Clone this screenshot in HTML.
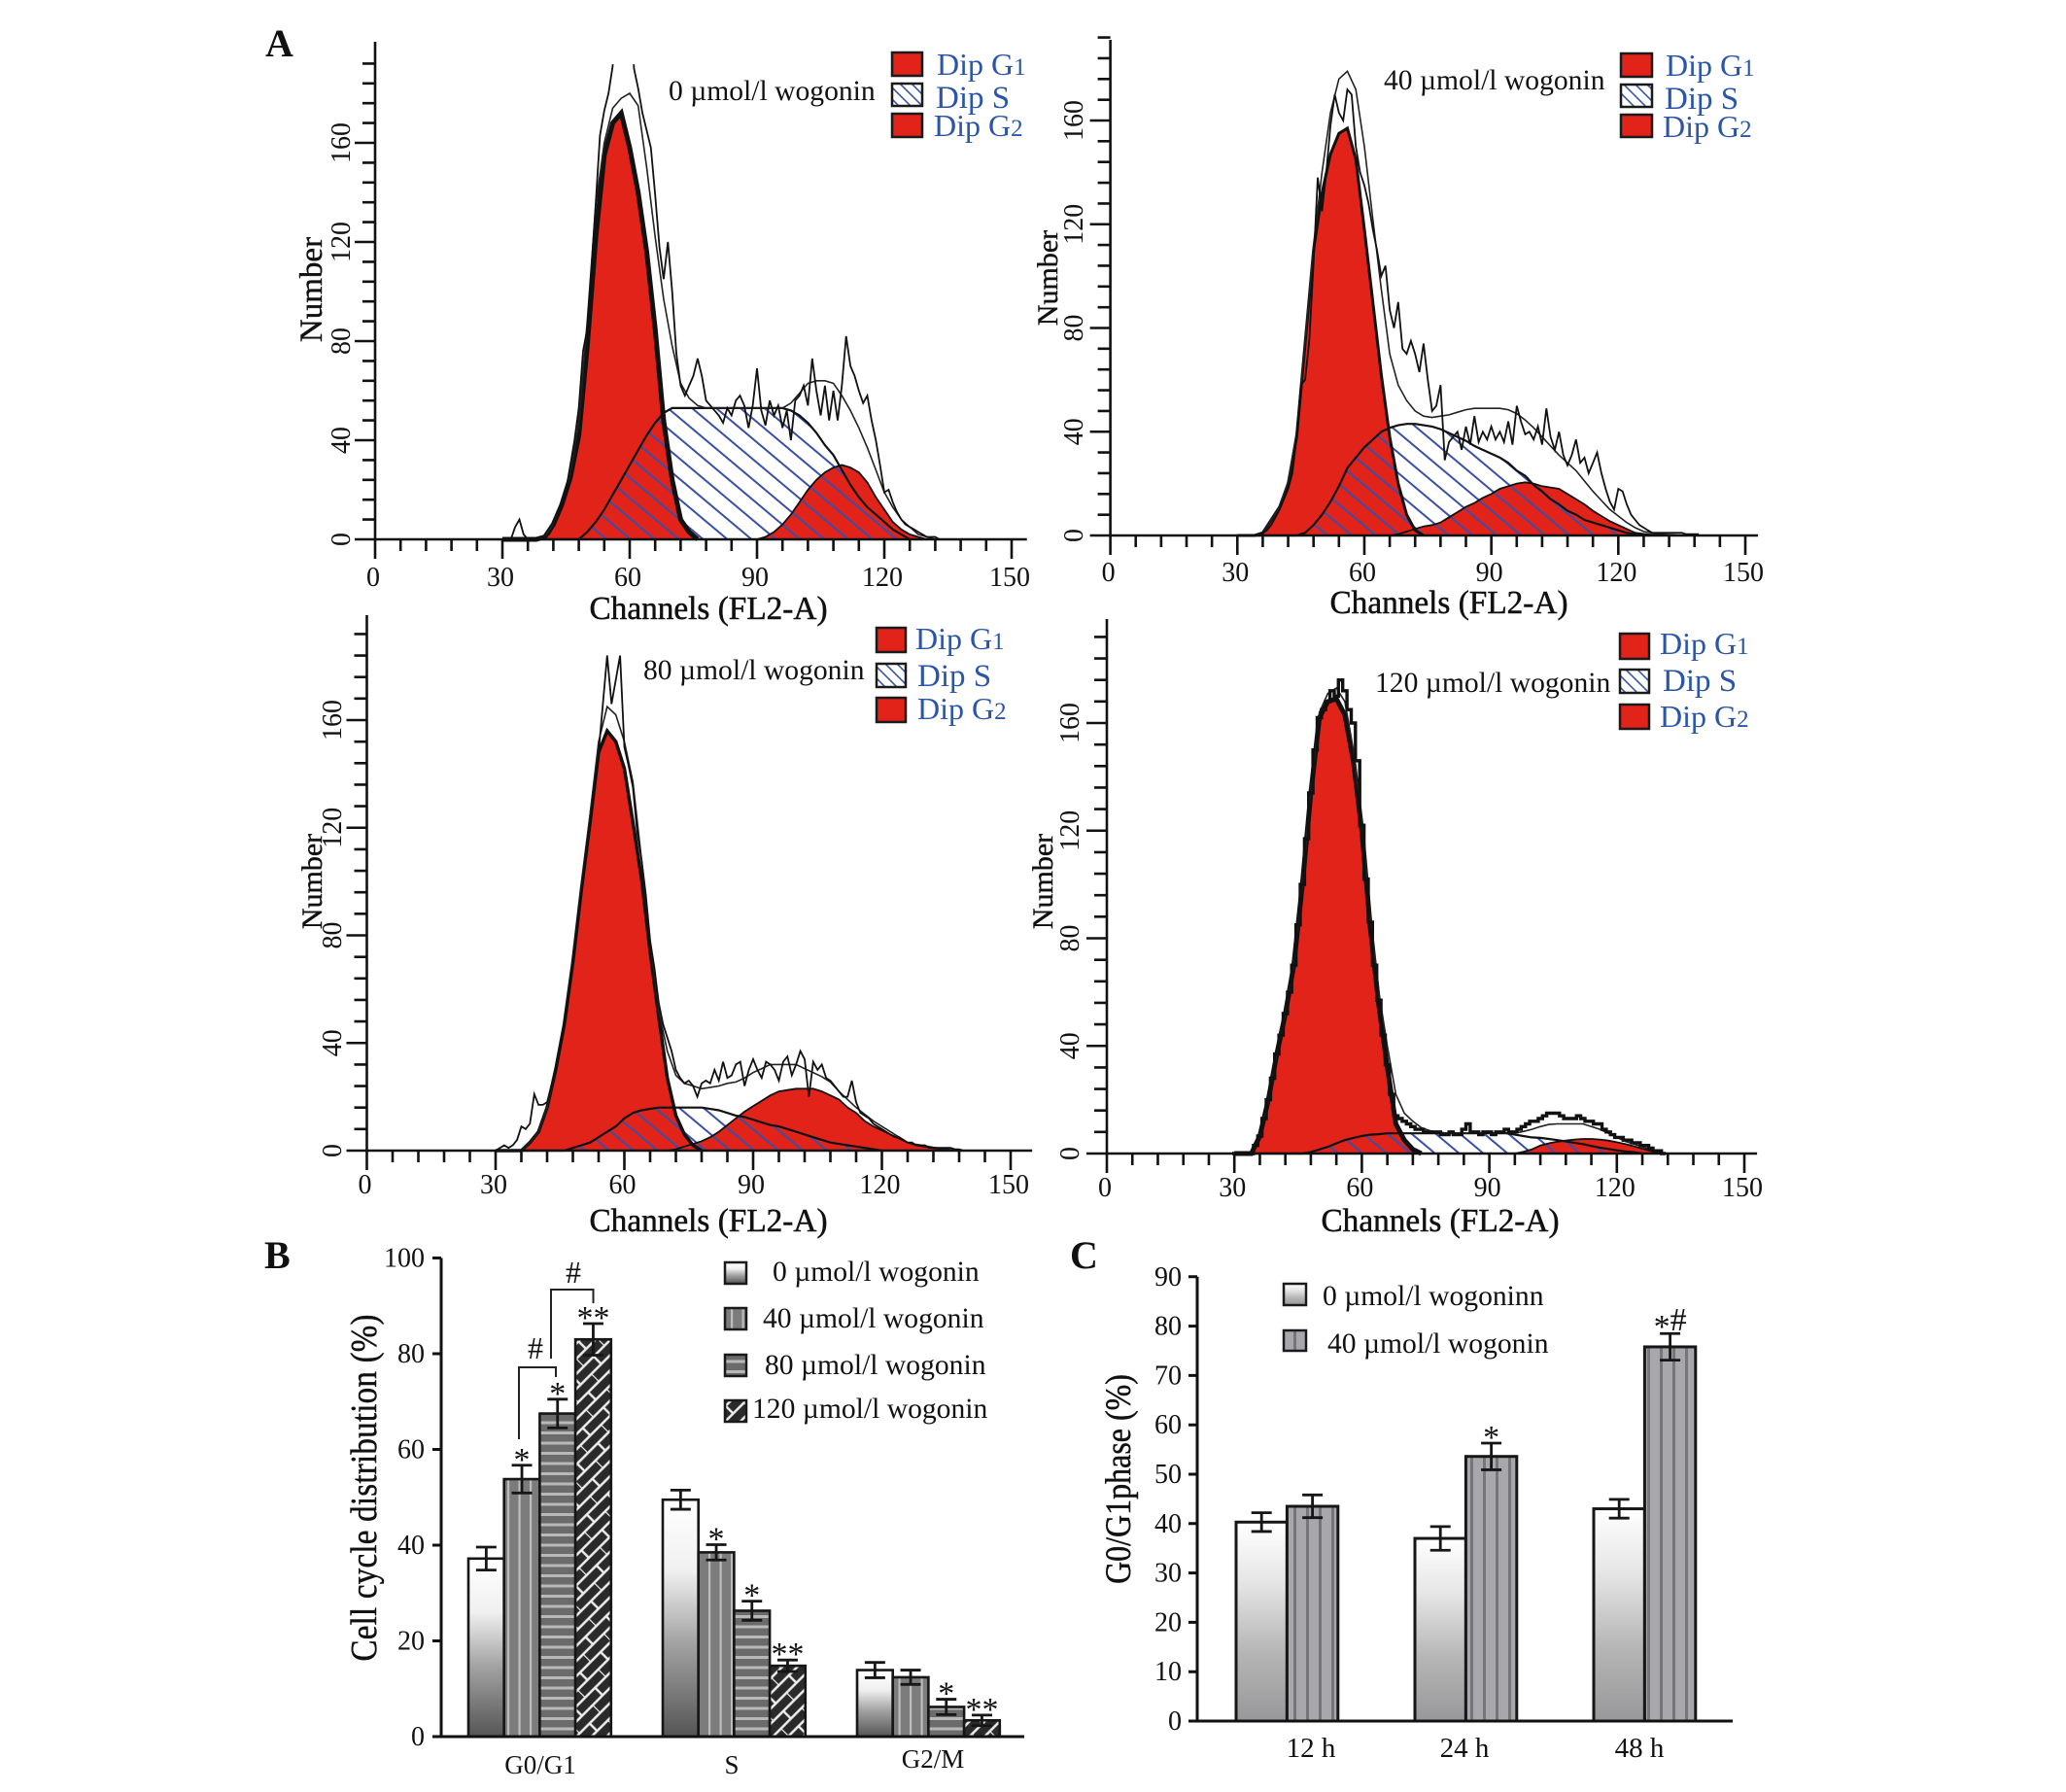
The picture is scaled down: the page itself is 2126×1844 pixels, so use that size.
<!DOCTYPE html>
<html lang="en">
<head>
<meta charset="utf-8">
<title>Wogonin cell cycle figure</title>
<style>
html,body{margin:0;padding:0;background:#fff;}
svg{display:block;}
text{font-family:"Liberation Serif",serif;fill:#111;}
.leg{fill:#2b55a8;font-size:32px;}
.legs{fill:#2b55a8;font-size:33px;}
.ann{font-size:29.6px;}
.ch{font-size:33.3px;text-anchor:middle;stroke:#111;stroke-width:.5px;}
.num{font-size:33px;text-anchor:middle;stroke:#111;stroke-width:.4px;}
.tick{font-size:28px;}
.letter{font-size:40px;font-weight:bold;}
.sw{stroke:#1a1a1a;stroke-width:2.5;}
</style>
</head>
<body>
<svg id="fig" xmlns="http://www.w3.org/2000/svg" width="2126" height="1844" viewBox="0 0 2126 1844">
<defs>
<pattern id="hatch" patternUnits="userSpaceOnUse" width="40" height="16" patternTransform="rotate(40)"><path d="M-2,8H42" stroke="#3a4fa5" stroke-width="2" fill="none"/></pattern>
<pattern id="hatchSmall" patternUnits="userSpaceOnUse" width="12" height="12"><path d="M-2,-2L14,14M-2,10L2,14M10,-2L14,2" stroke="#3b57ab" stroke-width="1.6" fill="none"/></pattern>
<linearGradient id="gradB" x1="0" y1="0" x2="0" y2="1"><stop offset="0" stop-color="#fff"/><stop offset=".3" stop-color="#f0f0f0"/><stop offset=".6" stop-color="#a4a4a4"/><stop offset="1" stop-color="#555"/></linearGradient>
<linearGradient id="gradC" x1="0" y1="0" x2="0" y2="1"><stop offset="0" stop-color="#fff"/><stop offset=".3" stop-color="#e6e6e6"/><stop offset=".65" stop-color="#b6b6b6"/><stop offset="1" stop-color="#98989a"/></linearGradient>
<pattern id="patB40" patternUnits="userSpaceOnUse" width="11.5" height="20"><rect width="11.5" height="20" fill="#7c7c7c"/><rect x="4.5" width="2.2" height="20" fill="#bcbcbc"/></pattern>
<pattern id="patB80" patternUnits="userSpaceOnUse" width="20" height="10.5"><rect width="20" height="10.5" fill="#6b6b6b"/><rect y="3" width="20" height="3" fill="#b8b8b8"/></pattern>
<pattern id="patB120" patternUnits="userSpaceOnUse" width="30" height="22" patternTransform="rotate(-45)"><rect width="30" height="22" fill="#2a2a2a"/><path d="M0,0H30M0,11H30M0,22H30M0,0V11M15,11V22" stroke="#eee" stroke-width="2.4" fill="none"/></pattern>
<pattern id="patC40" patternUnits="userSpaceOnUse" width="13" height="20"><rect width="13" height="20" fill="#a8a8ac"/><rect x="5" width="3" height="20" fill="#76767a"/></pattern>
</defs>

<text class="letter" x="273" y="58">A</text>
<text class="letter" x="272" y="1305">B</text>
<text class="letter" x="1101" y="1305">C</text>

<text class="ann" x="688" y="103">0 µmol/l wogonin</text>
<text class="ann" x="1424" y="92">40 µmol/l wogonin</text>
<text class="ann" x="662" y="699">80 µmol/l wogonin</text>
<text class="ann" x="1415" y="712">120 µmol/l wogonin</text>

<text class="ch" x="729" y="637">Channels (FL2-A)</text>
<text class="ch" x="1491" y="631">Channels (FL2-A)</text>
<text class="ch" x="729" y="1267">Channels (FL2-A)</text>
<text class="ch" x="1482" y="1267">Channels (FL2-A)</text>

<text class="num" transform="translate(331,298) rotate(-90)">Number</text>
<text class="num" style="font-size:30px" transform="translate(1088,286) rotate(-90)">Number</text>
<text class="num" style="font-size:30px" transform="translate(331,907) rotate(-90)">Number</text>
<text class="num" style="font-size:30px" transform="translate(1083,907) rotate(-90)">Number</text>

<g>
<rect class="sw" x="918" y="54" width="31" height="24" fill="#e2231a"/>
<rect class="sw" x="918" y="86" width="31" height="23" fill="url(#hatchSmall)"/>
<rect class="sw" x="918" y="117" width="31" height="24" fill="#e2231a"/>
<text class="leg" x="964" y="77">Dip G<tspan font-size="25">1</tspan></text>
<text class="legs" x="963" y="111">Dip S</text>
<text class="leg" x="961" y="140">Dip G<tspan font-size="25">2</tspan></text>
</g>
<g>
<rect class="sw" x="1668" y="55" width="32" height="24" fill="#e2231a"/>
<rect class="sw" x="1668" y="87" width="32" height="23" fill="url(#hatchSmall)"/>
<rect class="sw" x="1668" y="118" width="32" height="23" fill="#e2231a"/>
<text class="leg" x="1714" y="78">Dip G<tspan font-size="25">1</tspan></text>
<text class="legs" x="1713" y="112">Dip S</text>
<text class="leg" x="1711" y="141">Dip G<tspan font-size="25">2</tspan></text>
</g>
<g>
<rect class="sw" x="902" y="646" width="30" height="25" fill="#e2231a"/>
<rect class="sw" x="902" y="683" width="30" height="24" fill="url(#hatchSmall)"/>
<rect class="sw" x="902" y="718" width="30" height="25" fill="#e2231a"/>
<text class="leg" x="942" y="668">Dip G<tspan font-size="25">1</tspan></text>
<text class="legs" x="944" y="706">Dip S</text>
<text class="leg" x="944" y="740">Dip G<tspan font-size="25">2</tspan></text>
</g>
<g>
<rect class="sw" x="1667" y="652" width="30" height="26" fill="#e2231a"/>
<rect class="sw" x="1667" y="689" width="30" height="24" fill="url(#hatchSmall)"/>
<rect class="sw" x="1667" y="725" width="30" height="25" fill="#e2231a"/>
<text class="leg" x="1708" y="673">Dip G<tspan font-size="25">1</tspan></text>
<text class="legs" x="1711" y="711">Dip S</text>
<text class="leg" x="1708" y="748">Dip G<tspan font-size="25">2</tspan></text>
</g>

<text transform="translate(387,1531) rotate(-90) scale(1,1.15)" font-size="33" text-anchor="middle" textLength="357" stroke="#111" stroke-width=".4">Cell cycle distribution (%)</text>
<g>
<rect class="sw" x="746" y="1299" width="22" height="22" fill="url(#gradB)"/>
<rect class="sw" x="746" y="1346" width="22" height="22" fill="url(#patB40)"/>
<rect class="sw" x="746" y="1394" width="22" height="22" fill="url(#patB80)"/>
<rect class="sw" x="746" y="1441" width="22" height="22" fill="url(#patB120)"/>
<text class="ann" x="795" y="1318">0 µmol/l wogonin</text>
<text class="ann" x="785" y="1366">40 µmol/l wogonin</text>
<text class="ann" x="787" y="1414">80 µmol/l wogonin</text>
<text class="ann" x="774" y="1459">120 µmol/l wogonin</text>
</g>
<path d="M534,1481V1407H572V1417" fill="none" stroke="#222" stroke-width="2"/>
<path d="M567,1398V1327H610.5V1341" fill="none" stroke="#222" stroke-width="2"/>
<text x="551" y="1398" font-size="32" text-anchor="middle">#</text>
<text x="590" y="1320" font-size="32" text-anchor="middle">#</text>

<text transform="translate(1163,1522) rotate(-90) scale(1,1.15)" font-size="32" text-anchor="middle" stroke="#111" stroke-width=".4">G0/G1phase (%)</text>
<g>
<rect class="sw" x="1321" y="1321" width="23" height="22" fill="url(#gradC)"/>
<rect class="sw" x="1321" y="1369" width="23" height="21" fill="url(#patC40)"/>
<text class="ann" x="1361" y="1343">0 µmol/l wogoninn</text>
<text class="ann" x="1366" y="1392">40 µmol/l wogonin</text>
</g>
</svg>

<script>
// ---------- Panel A data: model curves sampled every 2 channels from channel 30 ----------
const curveStart = 30;
const curveStep = 2;
const rawStart = 30;
const xTickLabels = [0, 30, 60, 90, 120, 150];
const yTickLabels = [0, 40, 80, 120, 160];

const p0G1 = [0,0,0,0,0, 1,6,14,25,42, 78,122,155,168,172, 158,140,116,85,48, 24,8,3,0];
const p0S = [0,0,0,0,0,0,0,0,0, 0,3,7,12,18,24,30,36,42,47,51, 53,53,53,53,53,53,53,53,53,53,53,53,53,53, 52,50,47,43,38,34,28,22,17,13,10,7,4,2,0];
const p0G2 = [0,0,0,0,0,0,0,0,0,0, 0,0,0,0,0,0,0,0,0,0, 0,0,0,0,0,0,0,0,0,0, 0,1,3,6,10,15,20,24,27,29,30,29,27,23,17,12,7,4,2,1,0];
const p0Fit = [0,0,0,0,0, 1,6,14,27,47, 88,135,160,174,178, 180,175,150,122,97, 78,63,57,54,53, 53,53,53,53,53, 53,53,53,53,55, 59,63,64,64,63, 58,52,45,37,28, 19,13,8,5,2, 1,0];
const p0Raw = [
0,0,0,5,8,2,0,0,0,0,
1,2,5,9,14,20,30,40,53,76,
85,110,136,163,173,180,191,230,230,230,
230,190,182,172,165,158,139,118,105,120,
100,75,62,58,62,66,73,66,56,54,
52,50,47,53,50,56,58,54,45,54,
69,52,46,56,50,54,45,52,40,56,
58,62,54,73,60,50,62,48,60,48,
62,82,70,66,60,55,58,48,40,30,
19,20,15,11,8,6,5,4,3,2,
1,1,1,0,0,0,0,0,0,0];

const p40G1 = [0,0,0,1,6, 11,20,38,74,110, 132,147,155,157,145, 118,90,62,38,20, 8,2,0];
const p40S = [0,0,0,0,0,0,0, 0,1,4,8,13,19,26,30,34,37,40,41.5,42.5,43,43,42.5,42,41,39.5,38,36.5,34.5,33,31.5,30,28,25,23,19.5,17,14,12,9.5,8,6,5,4,3,2,1,0.5,0];
const p40G2 = [0,0,0,0,0,0,0,0,0,0, 0,0,0,0,0,0,0,0, 0,0.5,1.5,2.5,3.5,4,5,7,9,11,12.5,14.5,16,18,19,20,20.5,20,19,18.5,18,16,14,12,9.5,7.5,5.5,4,2.5,1,0.6,0.3,0];
const p40Fit = [0,0,0,1,6, 11,21,40,75,112, 140,163,176,179,172, 150,122,95,70,58, 52,48,46,45.5,46, 46.5,47.5,48.5,49,49, 49,49,48.5,47,44.5, 41.5,38,34.5,31,28, 25,21,17,13.5,10, 7.5,5,3,1.5,1, 0.5,0.3,0.1,0];
const p40Raw = [
0,0,0,0,0,0,1,2,4,7,
10,14,18,24,38,58,60,75,105,138,
125,140,158,170,163,160,172,170,150,140,
135,128,118,110,100,104,87,80,90,72,
70,75,70,63,74,60,48,50,58,29,
36,38,40,33,42,35,46,36,40,37,
42,37,40,36,44,35,50,44,39,40,
37,42,35,49,38,33,40,31,27,31,
37,28,30,24,28,32,24,18,13,10,
18,17,12,8,6,4,3,2,1,1,
1,1,1,1,1,1,0.5,0.5,0.5,0.5];

const p80G1 = [0,0,0, 0,3, 7,16,30,47,70, 97,122,148,156,152, 142,122,101,74,50, 27,13,6,2,0];
const p80S = [0,0,0,0,0,0,0,0, 0,1,2,3,5,7,9,12,14,15,15.5,16,16,16,16,16,16,15.5,15,14,13,12.5,11.5,10.5,9.5,9,8,7,6,5,4,3,2.5,2,1.5,1,0.5,0];
const p80G2 = [0,0,0,0,0,0,0,0,0,0, 0,0,0,0,0,0,0,0,0,0, 0,0.5,1.5,2.5,3.5,5,7,9.5,12,14.5,16.5,18.5,20.5,22,22.5,23,23,23,22,20.5,19,16,14,11,9,7.5,6,4.5,3,2,1.5,1,0.5,0.3,0];
const p80Fit = [0,0,0, 0,3, 7,16,30,47,71, 99,125,152,165,162, 152,137,108,78,52, 37,28,25,24,23, 23.5,24,25,25.5,27, 29,30.5,32,32,32, 32,30.5,29,27.5,25.5, 22,19,16,13.5,11, 9,7,5,3,2.3, 1.8,1.2,0.7,0.3,0];
const p80Raw = [
0,1,2,1,2,4,9,8,10,21,
17,17,18,24,30,38,47,58,70,84,
97,110,122,135,148,166,184,166,175,184,
150,143,135,118,108,95,78,68,55,47,
42,37,30,27,25,26,24,20,25,26,
25,30,26,33,27,28,32,33,24,30,
34,30,27,33,32,30,26,33,35,28,
32,37,34,20,33,30,32,27,26,24,
22,20,20,26,18,14,13,12,10,9,
8,7,6,5,5,4,3,3,2,2,
2,1,1,1,1,1,1,0.5,0.5,0];

const p120G1 = [0,0, 0,6.5,20, 37,52,70,100,134, 162,168,169,163,146, 120,84,55,32,11, 5,1.5,0];
const p120S = [0,0,0,0,0,0,0,0, 0,0.5,1.5,2.5,3.8,5,5.8,6.5,7,7.2,7.5,7.5,7.5,7.5,7.5,7.5,7.5,7.5,7.5,7.5,7.5,7.5,7.5,7.5,7.5,7,6.5,6,5.8,5.4,5,4.5,4,3.5,2.8,2.2,1.7,1.2,0.8,0.5,0];
const p120G2 = [0,0,0,0,0,0,0,0,0,0, 0,0,0,0,0,0,0,0,0,0, 0,0,0,0,0,0,0,0,0,0, 0,0,0, 0,0.6,1.5,3,3.8,4.4,4.8,5.2,5.4,5.4,5.2,4.8,4.2,3.5,2.7,1.8,1,0];
const p120Fit = [0,0, 0,6.5,20, 37,52,70,100,135, 164,171,173,168,150, 123,88,60,40,22, 15,12,9.6,8.5,8, 7.6,7.6,7.6,7.6,7.6, 7.6,7.6,7.6,7.6,8.2, 9,10,10.8,11,11, 11,11,10,9,7.5, 6,4.5,3.5,2.5,1.5, 0.5,0];
const p120Raw = [
0,0,0,0,0,3,6.5,13,20,28,
37,44,52,60,70,85,100,117,134,150,
162,165,168,172,170,176,172,165,160,146,
122,102,86,70,57,44,33,22,14,13,
12,11,10,9,9,8,8,8,8,7,
7,8,7,7,9,11,8,8,7,8,
8,7,8,8,9,8,8,9,10,11,
12,12,13,14,15,15,15,14,13,13,
13,14,13,12,12,11,11,9,8,7,
6,6,5,5,4,4,3,3,2,1,
1,0];

// ---------- Panel B data ----------
const bCategories = ['G0/G1', 'S', 'G2/M'];
const bTickLabels = [0, 20, 40, 60, 80, 100];
const bValues0 = [37.2, 49.5, 13.9];
const bValues40 = [53.8, 38.5, 12.4];
const bValues80 = [67.5, 26.3, 6.2];
const bValues120 = [83, 14.8, 3.4];
const bErrors0 = [2.4, 2, 1.6];
const bErrors40 = [2.9, 1.6, 1.5];
const bErrors80 = [3, 2, 1.6];
const bErrors120 = [3.3, 1.2, 1.1];
const bMarks0 = ['', '', ''];
const bMarks40 = ['*', '*', ''];
const bMarks80 = ['*', '*', '*'];
const bMarks120 = ['**', '**', '**'];

// ---------- Panel C data ----------
const cCategories = ['12 h', '24 h', '48 h'];
const cTickLabels = [0, 10, 20, 30, 40, 50, 60, 70, 80, 90];
const cValues0 = [40.3, 37, 43];
const cValues40 = [43.5, 53.6, 75.8];
const cErrors0 = [1.9, 2.4, 1.9];
const cErrors40 = [2.3, 2.7, 2.7];
const cMarks40 = ['', '*', '*#'];

// ---------- Drawing ----------
const SVGNS = 'http://www.w3.org/2000/svg';
const fig = document.getElementById('fig');
function mk(parent, tag, attrs, txt) {
  const n = document.createElementNS(SVGNS, tag);
  for (const k in attrs) n.setAttribute(k, attrs[k]);
  if (txt !== undefined) n.textContent = txt;
  parent.appendChild(n);
  return n;
}

const panelsA = [
  {id:'0', g1:p0G1, s:p0S, g2:p0G2, fit:p0Fit, raw:p0Raw, x0:386, x150:1041, y0:555, y160:147, top:43, xEnd:153.6, tx:360, ty:603, rawW:1.8, outlineW:5, rawStepped:false, clip:191.7},
  {id:'40', g1:p40G1, s:p40S, g2:p40G2, fit:p40Fit, raw:p40Raw, x0:1142.6, x150:1796, y0:551, y160:124, top:41, xEnd:153, tx:1114, ty:598, rawW:1.8, outlineW:3, rawStepped:false, clip:210},
  {id:'80', g1:p80G1, s:p80S, g2:p80G2, fit:p80Fit, raw:p80Raw, x0:377.5, x150:1040, y0:1184, y160:741, top:633, xEnd:155, tx:351, ty:1228, rawW:1.8, outlineW:3.5, rawStepped:false, clip:210},
  {id:'120', g1:p120G1, s:p120S, g2:p120G2, fit:p120Fit, raw:p120Raw, x0:1139, x150:1795, y0:1187, y160:744, top:637, xEnd:153, tx:1110, ty:1231, rawW:3.4, outlineW:5, rawStepped:true, clip:210}
];

panelsA.forEach(function (p) {
  const xS = function (c) { return p.x0 + c * (p.x150 - p.x0) / 150; };
  const yS = function (v) { return p.y0 - v * (p.y0 - p.y160) / 160; };
  const group = mk(fig, 'g', {});
  
  

  function linePath(arr) {
    let d = '';
    arr.forEach(function (v, i) {
      d += (i ? 'L' : 'M') + xS(curveStart + i * curveStep).toFixed(1) + ',' + yS(v).toFixed(1);
    });
    return d;
  }
  function areaPath(arr) {
    const endC = curveStart + (arr.length - 1) * curveStep;
    return linePath(arr) + 'L' + xS(endC).toFixed(1) + ',' + yS(0).toFixed(1) + 'L' + xS(curveStart).toFixed(1) + ',' + yS(0).toFixed(1) + 'Z';
  }

  const g1Area = mk(group, 'path', {d: areaPath(p.g1), fill: '#e2231a'});
  
  

  const g2Area = mk(group, 'path', {d: areaPath(p.g2), fill: '#e2231a'});
  
  

  const sArea = mk(group, 'path', {d: areaPath(p.s), fill: 'url(#hatch)'});
  
  

  const g1Line = mk(group, 'path', {d: linePath(p.g1), fill: 'none', stroke: '#111', 'stroke-width': p.outlineW});
  
  

  const g2Line = mk(group, 'path', {d: linePath(p.g2), fill: 'none', stroke: '#111', 'stroke-width': 1.8});
  
  

  const sLine = mk(group, 'path', {d: linePath(p.s), fill: 'none', stroke: '#111', 'stroke-width': 2.2});
  
  

  const fitLine = mk(group, 'path', {d: linePath(p.fit), fill: 'none', stroke: '#222', 'stroke-width': 1.6});
  
  

  const clip = mk(group, 'clipPath', {id: 'clip' + p.id});
  mk(clip, 'rect', {x: p.x0, y: yS(p.clip), width: p.x150 - p.x0, height: yS(0) - yS(p.clip) + 2});
  let rawD = '';
  if (p.rawStepped) {
    rawD = 'M' + xS(rawStart - 0.5).toFixed(1) + ',' + yS(0).toFixed(1);
    p.raw.forEach(function (v, i) {
      rawD += 'V' + yS(v).toFixed(1) + 'H' + xS(rawStart + i + 0.5).toFixed(1);
    });
  } else {
    p.raw.forEach(function (v, i) {
      rawD += (i ? 'L' : 'M') + xS(rawStart + i).toFixed(1) + ',' + yS(v).toFixed(1);
    });
  }
  const rawLine = mk(group, 'path', {d: rawD, fill: 'none', stroke: '#111', 'stroke-width': p.rawW, 'clip-path': 'url(#clip' + p.id + ')'});
  
  

  // axes
  let axisD = 'M' + xS(0) + ',' + p.top + 'V' + yS(0) + 'M' + (xS(0) - 21) + ',' + yS(0) + 'H' + xS(p.xEnd);
  for (let c = 0; c <= 150; c += 6) {
    axisD += 'M' + xS(c) + ',' + yS(0) + 'v' + (c % 30 === 0 ? 20 : 12);
  }
  for (let v = 8; v <= 192; v += 8) {
    axisD += 'M' + xS(0) + ',' + yS(v) + 'h' + (v % 40 === 0 ? -21 : -13);
  }
  const axes = mk(group, 'path', {d: axisD, fill: 'none', stroke: '#111', 'stroke-width': 2.6});
  
  

  xTickLabels.forEach(function (c) {
    const t = mk(group, 'text', {class: 'tick', x: xS(c) - 2, y: p.ty, 'text-anchor': 'middle'}, String(c));
    
    
  });
  yTickLabels.forEach(function (v) {
    const t = mk(group, 'text', {class: 'tick', transform: 'translate(' + p.tx + ',' + yS(v) + ') rotate(-90)', 'text-anchor': 'middle'}, String(v));
    
    
  });
});

// Grouped bars
function drawBars(cfg) {
  const yS = function (v) { return cfg.y0 - v * cfg.pxPerUnit; };
  const group = mk(fig, 'g', {});
  
  
  const xBar = function (ci, si) { return cfg.firstX + ci * cfg.groupGap + si * cfg.barW; };

  cfg.series.forEach(function (s, si) {
    cfg.categories.forEach(function (cat, ci) {
      const v = s.values[ci];
      const bar = mk(group, 'rect', {x: xBar(ci, si), y: yS(v), width: cfg.barW, height: cfg.y0 - yS(v), fill: s.fill, stroke: '#161616', 'stroke-width': cfg.barStroke});
      
      
    });
  });
  cfg.series.forEach(function (s, si) {
    cfg.categories.forEach(function (cat, ci) {
      const v = s.values[ci];
      const e = s.errors[ci];
      const cx = xBar(ci, si) + cfg.barW / 2;
      const err = mk(group, 'path', {d: 'M' + cx + ',' + yS(v + e) + 'V' + yS(v - e) + 'M' + (cx - 10.5) + ',' + yS(v + e) + 'h21M' + (cx - 10.5) + ',' + yS(v - e) + 'h21', fill: 'none', stroke: '#161616', 'stroke-width': 2.8});
      
      
      const mark = s.marks ? s.marks[ci] : '';
      if (mark) {
        const hasHash = mark.indexOf('#') >= 0;
        const m = mk(group, 'text', {x: cx, y: yS(v + e) + (hasHash ? 0 : 5), 'font-size': 34, 'text-anchor': 'middle'}, hasHash ? undefined : mark);
        
        
        if (hasHash) {
          mk(m, 'tspan', {dy: 4}, mark.charAt(0));
          mk(m, 'tspan', {dy: -7}, mark.charAt(1));
        }
      }
    });
  });
  const axes = mk(group, 'path', {d: cfg.axisPath(yS), fill: 'none', stroke: '#111', 'stroke-width': 3});
  
  

  cfg.ticks.forEach(function (v) {
    const t = mk(group, 'text', {class: 'tick', x: cfg.tickRight, y: yS(v) + 9, 'text-anchor': 'end'}, String(v));
    
    
  });
  cfg.categories.forEach(function (cat, ci) {
    const t = mk(group, 'text', {x: cfg.firstX + ci * cfg.groupGap + cfg.catDx + (cfg.catNudgeX ? cfg.catNudgeX[ci] : 0), y: cfg.catY + (cfg.catNudgeY ? cfg.catNudgeY[ci] : 0), 'font-size': cfg.catFont, 'text-anchor': 'middle'}, cat);
    
    
  });
}

drawBars({
  name: 'cell-cycle-bar-chart', categories: bCategories, ticks: bTickLabels,
  y0: 1787, pxPerUnit: 4.925, firstX: 482, groupGap: 200, barW: 36.7, barStroke: 2.6,
  tickRight: 437, catY: 1825, catFont: 27, catDx: 74, catNudgeX: [0, -3, 4], catNudgeY: [0, 0, -6],
  series: [
    {id: '0', values: bValues0, errors: bErrors0, marks: bMarks0, fill: 'url(#gradB)'},
    {id: '40', values: bValues40, errors: bErrors40, marks: bMarks40, fill: 'url(#patB40)'},
    {id: '80', values: bValues80, errors: bErrors80, marks: bMarks80, fill: 'url(#patB80)'},
    {id: '120', values: bValues120, errors: bErrors120, marks: bMarks120, fill: 'url(#patB120)'}
  ],
  axisPath: function (yS) {
    let d = 'M454,' + yS(100) + 'V' + yS(0) + 'M445,' + yS(0) + 'H1054';
    bTickLabels.forEach(function (v) { d += 'M445,' + yS(v) + 'H454'; });
    return d;
  }
});

drawBars({
  name: 'g0g1-bar-chart', categories: cCategories, ticks: cTickLabels,
  y0: 1771, pxPerUnit: 5.08, firstX: 1272, groupGap: 184, barW: 52.4, barStroke: 3,
  tickRight: 1216, catY: 1808, catFont: 29, catDx: 52, catNudgeX: [25, -1, -5], catNudgeY: [0, 0, 0],
  series: [
    {id: '0', values: cValues0, errors: cErrors0, fill: 'url(#gradC)'},
    {id: '40', values: cValues40, errors: cErrors40, marks: cMarks40, fill: 'url(#patC40)'}
  ],
  axisPath: function (yS) {
    let d = 'M1232,' + yS(90) + 'V' + yS(0) + 'M1223,' + yS(0) + 'H1783';
    cTickLabels.forEach(function (v) { d += 'M1223,' + yS(v) + 'H1232'; });
    return d;
  }
});
</script>
</body>
</html>
